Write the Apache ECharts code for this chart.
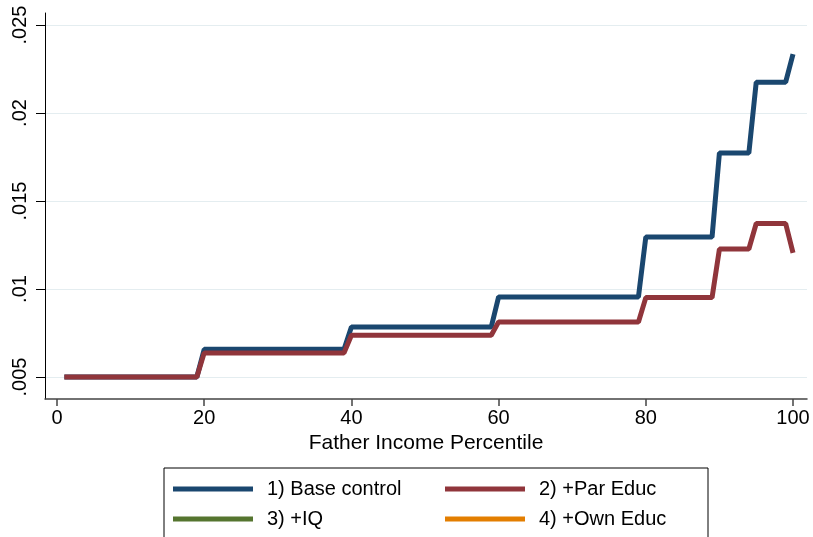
<!DOCTYPE html>
<html>
<head>
<meta charset="utf-8">
<script src="https://cdn.jsdelivr.net/npm/echarts@6/dist/echarts.min.js"></script>
<style>
html, body { margin: 0; padding: 0; background: #fff; }
#main { width: 813px; height: 537px; }
</style>
</head>
<body>
<div id="main"></div>
<script>
// percentile 1..100
const pct = [
    1, 2, 3, 4, 5, 6, 7, 8, 9, 10, 11, 12, 13, 14, 15, 16, 17, 18, 19, 20,
    21, 22, 23, 24, 25, 26, 27, 28, 29, 30, 31, 32, 33, 34, 35, 36, 37, 38, 39, 40,
    41, 42, 43, 44, 45, 46, 47, 48, 49, 50, 51, 52, 53, 54, 55, 56, 57, 58, 59, 60,
    61, 62, 63, 64, 65, 66, 67, 68, 69, 70, 71, 72, 73, 74, 75, 76, 77, 78, 79, 80,
    81, 82, 83, 84, 85, 86, 87, 88, 89, 90, 91, 92, 93, 94, 95, 96, 97, 98, 99, 100,
];
const baseControl = [
    .005, .005, .005, .005, .005, .005, .005, .005, .005, .005,
    .005, .005, .005, .005, .005, .005, .005, .005, .005, .00657,
    .00657, .00657, .00657, .00657, .00657, .00657, .00657, .00657, .00657, .00657,
    .00657, .00657, .00657, .00657, .00657, .00657, .00657, .00657, .00657, .00784,
    .00784, .00784, .00784, .00784, .00784, .00784, .00784, .00784, .00784, .00784,
    .00784, .00784, .00784, .00784, .00784, .00784, .00784, .00784, .00784, .00955,
    .00955, .00955, .00955, .00955, .00955, .00955, .00955, .00955, .00955, .00955,
    .00955, .00955, .00955, .00955, .00955, .00955, .00955, .00955, .00955, .01295,
    .01295, .01295, .01295, .01295, .01295, .01295, .01295, .01295, .01295, .01773,
    .01773, .01773, .01773, .01773, .02175, .02175, .02175, .02175, .02175, .02335,
];
const parEduc = [
    .005, .005, .005, .005, .005, .005, .005, .005, .005, .005,
    .005, .005, .005, .005, .005, .005, .005, .005, .005, .00637,
    .00637, .00637, .00637, .00637, .00637, .00637, .00637, .00637, .00637, .00637,
    .00637, .00637, .00637, .00637, .00637, .00637, .00637, .00637, .00637, .00737,
    .00737, .00737, .00737, .00737, .00737, .00737, .00737, .00737, .00737, .00737,
    .00737, .00737, .00737, .00737, .00737, .00737, .00737, .00737, .00737, .00813,
    .00813, .00813, .00813, .00813, .00813, .00813, .00813, .00813, .00813, .00813,
    .00813, .00813, .00813, .00813, .00813, .00813, .00813, .00813, .00813, .00951,
    .00951, .00951, .00951, .00951, .00951, .00951, .00951, .00951, .00951, .01227,
    .01227, .01227, .01227, .01227, .01372, .01372, .01372, .01372, .01372, .01205,
];
// the +IQ and +Own Educ lines are in the legend only
const plusIQ = [];
const ownEduc = [];

const seriesNames = ["1) Base control", "2) +Par Educ", "3) +IQ", "4) +Own Educ"];
const seriesColors = ["#1a476f", "#90353b", "#55752f", "#e37e00"];
const yTicks = [0.005, 0.01, 0.015, 0.02, 0.025];
const yTickLabels = [".005", ".01", ".015", ".02", ".025"];
const xTicks = [0, 20, 40, 60, 80, 100];

const font = "Liberation Sans";

function pairs(vals) {
    return vals.map((v, i) => [pct[i], v]);
}

let dom = document.getElementById("main");
let myChart = echarts.init(dom, null, { renderer: "canvas" });

function legendAt(name, left, top) {
    return {
        data: [name],
        left: left,
        top: top,
        padding: 0,
        icon: "rect",
        itemWidth: 80,
        itemHeight: 5,
        selectedMode: false,
        textStyle: { fontFamily: font, fontSize: 20, color: "#000", padding: [0, 0, 0, 9] },
    };
}

let option = {
    animation: false,
    backgroundColor: "#fff",
    grid: { left: 45, right: 6, top: 13, bottom: 138 },
    graphic: [{
        type: "rect",
        shape: { x: 164, y: 468, width: 544, height: 80 },
        style: { fill: "none", stroke: "#000", lineWidth: 1 },
    }],
    legend: [
        legendAt(seriesNames[0], 173, 479),
        legendAt(seriesNames[1], 445, 479),
        legendAt(seriesNames[2], 173, 509),
        legendAt(seriesNames[3], 445, 509),
    ],
    xAxis: {
        type: "value",
        min: -1.63,
        max: 101.9,
        name: "Father Income Percentile",
        nameLocation: "middle",
        nameGap: 32,
        nameTextStyle: { fontFamily: font, fontSize: 21, color: "#000" },
        axisLine: { onZero: false, lineStyle: { color: "#444", width: 1.5 } },
        axisTick: { customValues: xTicks, length: 7, lineStyle: { color: "#444", width: 1.5 } },
        axisLabel: {
            customValues: xTicks,
            margin: 9,
            fontFamily: font,
            fontSize: 20,
            color: "#000",
        },
        splitLine: { show: false },
    },
    yAxis: {
        type: "value",
        min: 0.00375,
        max: 0.02568,
        axisLine: { show: true, onZero: false, lineStyle: { color: "#000", width: 1 } },
        axisTick: { show: true, customValues: yTicks, length: 9, lineStyle: { color: "#000" } },
        axisLabel: {
            customValues: yTicks,
            rotate: 90,
            margin: 15,
            fontFamily: font,
            fontSize: 20,
            color: "#000",
            formatter: (v) => yTickLabels[yTicks.findIndex((t) => Math.abs(t - v) < 1e-9)] || "",
        },
        splitLine: { show: true, lineStyle: { color: "#e4edf0", width: 1 } },
    },
    series: [
        { name: seriesNames[0], type: "line", data: pairs(baseControl) },
        { name: seriesNames[1], type: "line", data: pairs(parEduc) },
        { name: seriesNames[2], type: "line", data: pairs(plusIQ) },
        { name: seriesNames[3], type: "line", data: pairs(ownEduc) },
    ].map((s, i) => Object.assign(s, {
        color: seriesColors[i],
        showSymbol: false,
        symbol: "none",
        lineStyle: { width: 5, color: seriesColors[i] },
        itemStyle: { color: seriesColors[i] },
    })),
};

myChart.setOption(option);
window.addEventListener("resize", myChart.resize);
</script>
</body>
</html>
